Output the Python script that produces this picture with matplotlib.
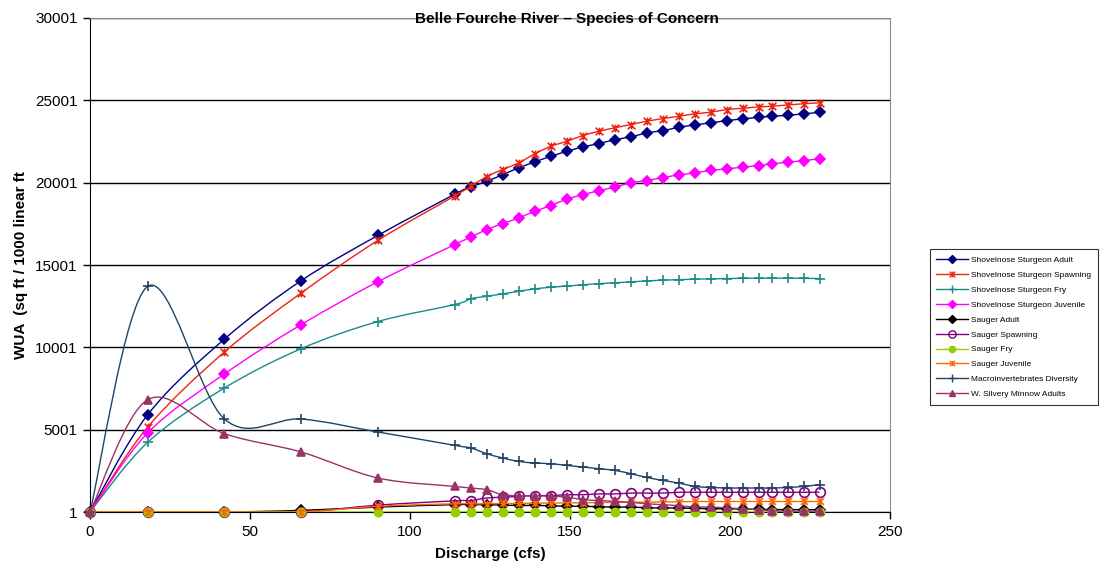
import numpy as np
import matplotlib.pyplot as plt
from matplotlib.path import Path
from matplotlib.patches import PathPatch
from matplotlib.lines import Line2D

plt.rcParams['font.family'] = ['Liberation Sans', 'DejaVu Sans']

# discharge (cfs) at which WUA was computed
discharge = [0, 18, 42, 66, 90, 114, 119, 124, 129, 134, 139, 144, 149, 154,
             159, 164, 169, 174, 179, 184, 189, 194, 199, 204, 209, 213,
             218, 223, 228]

sns_adult = [1, 5900, 10500, 14050, 16800, 19300, 19740, 20080, 20490, 20900,
             21260, 21600, 21900, 22170, 22370, 22610, 22780, 23020, 23160,
             23360, 23510, 23630, 23770, 23870, 23970, 24030, 24090, 24180,
             24270]
sns_spawning = [1, 5150, 9720, 13300, 16500, 19200, 19780, 20370, 20800,
                21200, 21750, 22210, 22510, 22860, 23120, 23330, 23530, 23730,
                23890, 24030, 24180, 24280, 24440, 24520, 24600, 24640, 24720,
                24790, 24850]
sns_fry = [1, 4230, 7530, 9920, 11570, 12600, 12950, 13100, 13250, 13400,
           13550, 13650, 13720, 13800, 13870, 13920, 13980, 14030, 14080,
           14110, 14140, 14160, 14180, 14190, 14200, 14200, 14200, 14190,
           14180]
sns_juvenile = [1, 4800, 8380, 11380, 13990, 16240, 16700, 17150, 17520,
                17860, 18260, 18610, 19000, 19270, 19510, 19730, 19990, 20130,
                20310, 20470, 20600, 20740, 20840, 20940, 21040, 21140, 21240,
                21340, 21450]
sauger_adult = [1, 1, 1, 100, 300, 450, 450, 450, 420, 400, 400, 380, 350,
                350, 320, 300, 300, 260, 250, 240, 220, 200, 200, 180, 160,
                150, 150, 140, 140]
sauger_spawning = [1, 1, 1, 1, 420, 680, 700, 850, 900, 950, 1000, 1000,
                   1050, 1050, 1100, 1100, 1150, 1150, 1150, 1200, 1200, 1200,
                   1200, 1200, 1200, 1200, 1200, 1200, 1200]
sauger_fry = [1] * 29
sauger_juvenile = [1, 1, 1, 1, 350, 500, 500, 500, 520, 520, 540, 540, 560,
                   560, 580, 580, 600, 600, 620, 620, 640, 640, 640, 640, 640,
                   640, 640, 640, 640]
macro_diversity = [1, 13700, 5650, 5650, 4860, 4050, 3890, 3540, 3280, 3075,
                   2975, 2935, 2830, 2735, 2630, 2530, 2330, 2100, 1920, 1760,
                   1555, 1495, 1460, 1460, 1460, 1460, 1490, 1555, 1660]
minnow_adults = [1, 6820, 4760, 3645, 2065, 1555, 1460, 1355, 1050, 990, 990,
                 950, 910, 750, 705, 645, 585, 505, 445, 385, 305, 305, 245,
                 200, 140, 80, 60, 60, 60]

# Excel-style "star": an x with a vertical bar through it
star = Path([(-1, -1), (1, 1), (-1, 1), (1, -1), (0, -1), (0, 1)],
            [Path.MOVETO, Path.LINETO, Path.MOVETO, Path.LINETO,
             Path.MOVETO, Path.LINETO])

series = [
    ('Shovelnose Sturgeon Adult', sns_adult, '#000080', 'D', 5.5, True),
    ('Shovelnose Sturgeon Spawning', sns_spawning, '#EE2211', star, 5.5, True),
    ('Shovelnose Sturgeon Fry', sns_fry, '#1A8C88', '+', 7, True),
    ('Shovelnose Sturgeon Juvenile', sns_juvenile, '#FF00FF', 'D', 5.5, True),
    ('Sauger Adult', sauger_adult, '#000000', 'D', 5.5, True),
    ('Sauger Spawning', sauger_spawning, '#800080', 'o', 7, False),
    ('Sauger Fry', sauger_fry, '#99CC00', 'o', 6, True),
    ('Sauger Juvenile', sauger_juvenile, '#FF6600', star, 5, True),
    ('Macroinvertebrates Diversity', macro_diversity, '#1F4466', '+', 7, True),
    ('W. Silvery Minnow Adults', minnow_adults, '#993366', '^', 6, True),
]


def smooth_path(x, y):
    # Catmull-Rom segments written as cubic Bezier curves (like Excel's smoothed lines)
    pts = np.column_stack([x, y]).astype(float)
    n = len(pts)
    verts = [pts[0]]
    codes = [Path.MOVETO]
    for i in range(n - 1):
        p0 = pts[max(i - 1, 0)]
        p1 = pts[i]
        p2 = pts[i + 1]
        p3 = pts[min(i + 2, n - 1)]
        verts += [p1 + (p2 - p0) / 6.0, p2 - (p3 - p1) / 6.0, p2]
        codes += [Path.CURVE4] * 3
    return Path(verts, codes)


fig = plt.figure(figsize=(11.11, 5.71), dpi=100)
ax = fig.add_axes([0.081, 0.1033, 0.72, 0.8652])

handles = []
for z, (name, vals, color, marker, ms, filled) in enumerate(series):
    patch = PathPatch(smooth_path(discharge, vals), facecolor='none',
                      edgecolor=color, lw=1.0, zorder=3 + z * 0.1)
    ax.add_patch(patch)
    fc = color if filled else 'none'
    ax.plot(discharge, vals, ls='none', marker=marker, ms=ms, color=color,
            mfc=fc, mec=color, mew=1.2, clip_on=False, zorder=3.05 + z * 0.1)
    handles.append(Line2D([], [], color=color, lw=1.0, marker=marker,
                          ms=ms * 0.75, mfc=fc, mec=color, mew=1.0))

ax.set_xlim(0, 250)
ax.set_ylim(1, 30001)
ax.set_xticks([0, 50, 100, 150, 200, 250])
ax.set_yticks([1, 5001, 10001, 15001, 20001, 25001, 30001])
ax.tick_params(direction='out', length=5, width=1, labelsize=11,
               colors='black', pad=4)
ax.yaxis.grid(True, color='black', lw=1)
ax.set_axisbelow(True)
for side in ['left', 'bottom']:
    ax.spines[side].set_color('black')
for side in ['top', 'right']:
    ax.spines[side].set_color('#8c8c8c')

ax.set_xlabel('Discharge (cfs)', fontsize=11, fontweight='bold', labelpad=6)
ax.set_ylabel('WUA  (sq ft / 1000 linear ft', fontsize=11, fontweight='bold',
              labelpad=5)
fig.text(0.51, 0.967, 'Belle Fourche River \u2013 Species of Concern',
         ha='center', va='center', fontsize=11, fontweight='bold')

leg = fig.legend(handles, [s[0] for s in series], loc='center left',
                 bbox_to_anchor=(0.833, 0.427), fontsize=6, frameon=True,
                 fancybox=False, edgecolor='black', handlelength=3.8,
                 labelspacing=0.85, borderpad=0.8, handletextpad=0.4)
leg.get_frame().set_linewidth(0.8)

fig.savefig('out.png', dpi=100)
